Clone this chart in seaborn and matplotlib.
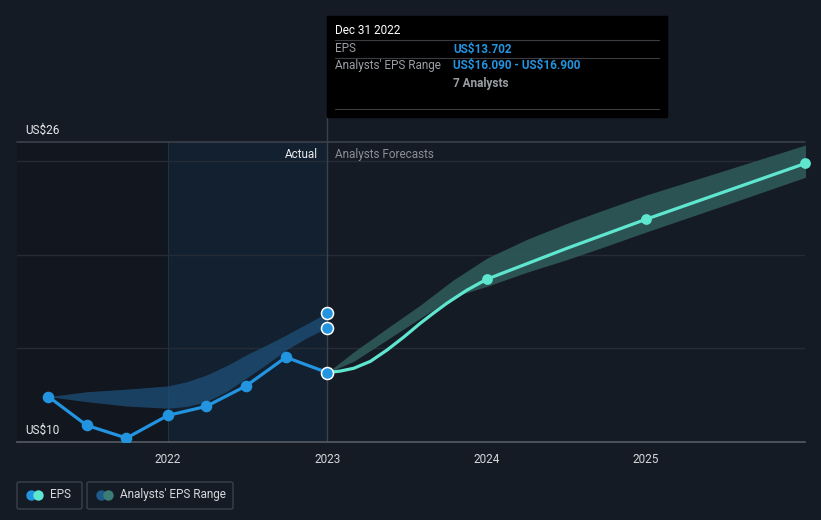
import matplotlib
matplotlib.use("Agg")
import matplotlib.pyplot as plt
from matplotlib.patches import Rectangle, FancyBboxPatch
from matplotlib.lines import Line2D
import seaborn as sns
import pandas as pd

# --- data ---
actual_years = [2021.25, 2021.49, 2021.74, 2022.0, 2022.24, 2022.49, 2022.74, 2023.0]
actual_eps = [12.42, 10.89, 10.21, 11.42, 11.90, 12.99, 14.52, 13.702]

past_range_years = [2021.25, 2021.49, 2021.74, 2022.0, 2022.12, 2022.24, 2022.37,
                    2022.49, 2022.62, 2022.74, 2022.87, 2023.0]
past_range_high = [12.42, 12.68, 12.82, 12.99, 13.22, 13.57, 14.08, 14.64, 15.18, 15.70,
                   16.30, 16.90]
past_range_low = [12.42, 12.15, 11.92, 11.80, 11.90, 12.15, 12.70, 13.40, 14.15, 14.90,
                  15.55, 16.09]

fc_years = [2023.0, 2023.08, 2023.165, 2023.27, 2023.374, 2023.48, 2023.583, 2023.67,
            2023.75, 2023.876, 2024.0, 2024.5, 2025.0, 2025.5, 2026.0]
fc_eps = [13.702, 13.78, 13.93, 14.30, 14.90, 15.60, 16.33, 16.90, 17.40, 18.10, 18.68,
          20.32, 21.88, 23.37, 24.86]
fc_marker_years = [2024.0, 2025.0, 2026.0]
fc_marker_eps = [18.68, 21.88, 24.86]

band_years = [2023.0, 2023.165, 2023.374, 2023.583, 2023.79, 2024.0, 2024.25, 2024.5,
              2024.71, 2025.0, 2025.5, 2026.0]
band_high = [13.702, 14.80, 16.06, 17.30, 18.64, 19.80, 20.80, 21.65, 22.30, 23.17,
             24.50, 25.84]
band_low = [13.702, 14.30, 15.45, 16.60, 17.75, 18.30, 19.05, 19.72, 20.33, 21.20,
            22.65, 24.12]

tick_years = [2022, 2023, 2024, 2025]
tick_labels = ["2022", "2023", "2024", "2025"]
y_min, y_max = 10, 26
grid_levels = [15, 20, 25]

BG = "#151b25"
BLUE = "#2394df"
TEAL = "#5ee6cf"

sns.set_style("dark")
plt.rcParams["font.family"] = ["Roboto", "DejaVu Sans"]

W, H = 821, 520
fig = plt.figure(figsize=(W / 100, H / 100), dpi=100)
fig.patch.set_facecolor(BG)

ax = fig.add_axes([17 / W, (H - 442) / H, (805 - 17) / W, 300 / H])
ax.set_facecolor(BG)
ax.set_xlim(2021.053, 2025.997)
ax.set_ylim(y_min, y_max)

# shaded periods
ax.axvspan(2021.053, 2022.0, color="#12161e", zorder=0, lw=0)
ax.axvspan(2022.0, 2023.0, color="#12202f", zorder=0, lw=0)
ax.axvline(2022.0, color="#1c3349", lw=0.8, zorder=1)

for g in grid_levels:
    ax.axhline(g, color="#262c36", lw=1, zorder=1)
ax.axhline(y_max, color="#3b414b", lw=1.2, zorder=1, clip_on=False)

# ranges
ax.fill_between(past_range_years, past_range_low, past_range_high,
                color="#1d4f78", alpha=0.75, lw=0, zorder=2)
ax.fill_between(band_years, band_low, band_high,
                color="#2f5a59", alpha=0.9, lw=0, zorder=2)

# lines
actual = pd.DataFrame({"year": actual_years, "eps": actual_eps})
forecast = pd.DataFrame({"year": fc_years, "eps": fc_eps})
sns.lineplot(data=forecast, x="year", y="eps", ax=ax, color=TEAL, lw=2.3, zorder=3)
sns.lineplot(data=actual, x="year", y="eps", ax=ax, color=BLUE, lw=2.3, zorder=4)
sns.scatterplot(x=actual_years[:-1], y=actual_eps[:-1], ax=ax, color=BLUE,
                s=70, linewidth=0, zorder=5)
sns.scatterplot(x=fc_marker_years, y=fc_marker_eps, ax=ax, color=TEAL,
                s=60, linewidth=0, zorder=5, clip_on=False)
sns.scatterplot(x=[2023.0, 2023.0, 2023.0], y=[actual_eps[-1], past_range_high[-1], past_range_low[-1]],
                ax=ax, color=BLUE, s=75, edgecolor="white", linewidth=1.1, zorder=6)

ax.axvline(2023.0, ymin=0, ymax=1, color="#3b414b", lw=1, zorder=1)
ax.plot([2023.0, 2023.0], [y_max, y_max + 1.37], color="#3b414b", lw=1, clip_on=False)

ax.set_xticks(tick_years)
ax.set_xticklabels(tick_labels, color="#d5d7db", fontsize=8.5)
ax.set_yticks([])
ax.tick_params(axis="x", length=4, color="#555b64", pad=4, width=1)
ax.set_xlabel("")
ax.set_ylabel("")
for side in ["top", "left", "right"]:
    ax.spines[side].set_visible(False)
ax.spines["bottom"].set_color("#555b64")
ax.spines["bottom"].set_linewidth(1.2)
ax.grid(False)

# axis labels
fig.text(25 / W, 1 - 130 / H, "US$26", color="#e8eaed", fontsize=8.5, va="center")
fig.text(25 / W, 1 - 430 / H, "US$10", color="#e8eaed", fontsize=8.5, va="center")
fig.text(318 / W, 1 - 154 / H, "Actual", color="#e8eaed", fontsize=8.5, ha="right", va="center")
fig.text(335 / W, 1 - 154 / H, "Analysts Forecasts", color="#8a8f96", fontsize=8.5, va="center")

# tooltip
fig.add_artist(Rectangle((327 / W, 1 - 117 / H), 340 / W, 101 / H,
                         transform=fig.transFigure, color="#000000", zorder=10))
for yy in [40, 58, 109]:
    fig.add_artist(Line2D([335 / W, 659 / W], [1 - yy / H, 1 - yy / H],
                          transform=fig.transFigure, color="#3a3d42", lw=0.8, zorder=11))
fig.text(335 / W, 1 - 31 / H, "Dec 31 2022", color="white", fontsize=8.5, va="center", zorder=12)
fig.text(335 / W, 1 - 49 / H, "EPS", color="#9a9ea5", fontsize=8.5, va="center", zorder=12)
fig.text(453 / W, 1 - 49 / H, r"US\$13.702", color=BLUE, fontsize=8.5, va="center",
         fontweight="bold", zorder=12)
fig.text(335 / W, 1 - 66 / H, "Analysts' EPS Range", color="#9a9ea5", fontsize=8.5,
         va="center", zorder=12)
fig.text(453 / W, 1 - 66 / H, r"US\$16.090 - US\$16.900", color=BLUE, fontsize=8.5,
         va="center", fontweight="bold", zorder=12)
fig.text(453 / W, 1 - 83 / H, "7 Analysts", color="#9a9ea5", fontsize=8.5, va="center",
         fontweight="bold", zorder=12)

# legend
for x0, x1 in [(17, 82), (87, 233)]:
    fig.add_artist(FancyBboxPatch((x0 / W, 1 - 509 / H), (x1 - x0) / W, 27 / H,
                                  boxstyle="round,pad=0,rounding_size=0.003",
                                  transform=fig.transFigure, facecolor=BG,
                                  edgecolor="#3b414b", lw=1))
for xp, col in [(31, BLUE), (38, TEAL), (101, "#1f5a8a"), (108, "#3b7c74")]:
    fig.add_artist(Line2D([xp / W], [1 - 494.5 / H], marker="o", markersize=7.5,
                          color=col, markeredgewidth=0, transform=fig.transFigure))
fig.text(50 / W, 1 - 494.5 / H, "EPS", color="#d5d7db", fontsize=8.5, va="center")
fig.text(120 / W, 1 - 494.5 / H, "Analysts' EPS Range", color="#d5d7db", fontsize=8.5, va="center")

fig.savefig("out.png", dpi=100, facecolor=BG)
